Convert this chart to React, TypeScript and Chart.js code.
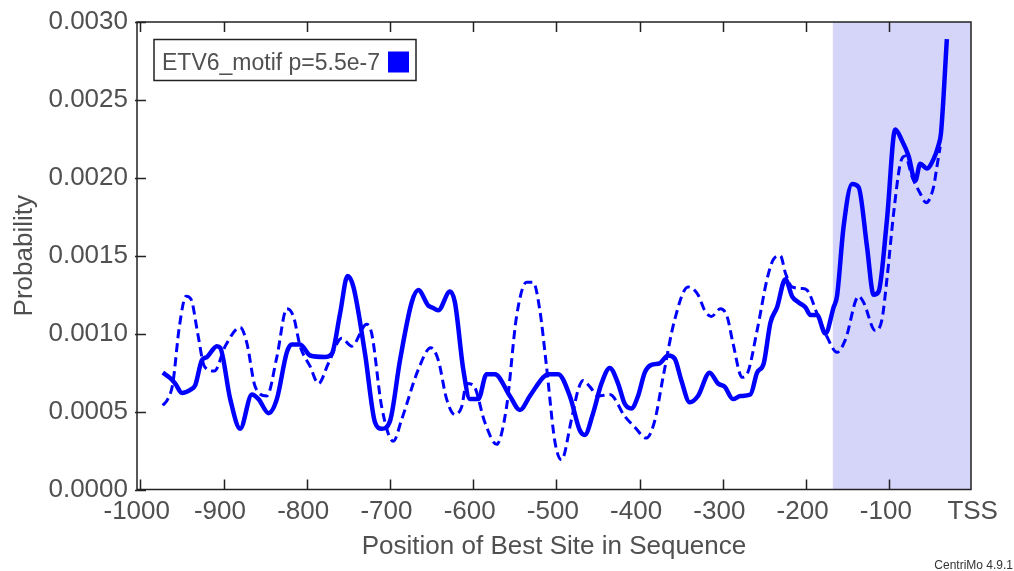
import React, { useEffect, useRef } from "react";
import { Chart, registerables } from "chart.js";

Chart.register(...registerables);

// ---- data ----
const solidX = [
  -973, -963, -958, -950, -940, -934, -926, -920, -908, -904, -892, -880, -866, -858, -846, -836,
  -824, -818, -808, -796, -778, -770, -760, -751, -744, -730, -718, -710, -700, -688, -674, -666,
  -654, -650, -642, -628, -622, -612, -604, -594, -584, -574, -556, -544, -532, -516, -510, -498,
  -484, -472, -466, -456, -446, -436, -426, -418, -410, -402, -394, -386, -376, -366, -358, -350,
  -340, -330, -316, -306, -298, -288, -279, -267, -259, -251, -243, -235, -225, -217, -209, -201,
  -195, -187, -177, -167, -163, -155, -145, -137, -127, -119, -113, -103, -93, -85, -77, -69,
  -63, -55, -47, -41, -38, -31,
];
const solidY = [
  0.00075, 0.00071, 0.00068, 0.00062, 0.00064, 0.00067, 0.00083, 0.00085, 0.00092, 0.00091, 0.00058, 0.00039, 0.00061, 0.00058, 0.00049, 0.00058,
  0.00088, 0.00093, 0.00093, 0.00086, 0.00085, 0.00087, 0.00113, 0.00137, 0.0013, 0.00087, 0.00043, 0.00039, 0.00044, 0.00083, 0.0012, 0.00128,
  0.00118, 0.00117, 0.00115, 0.00127, 0.0012, 0.00077, 0.00058, 0.00058, 0.00074, 0.00074, 0.0006, 0.00051, 0.0006, 0.00072, 0.00074, 0.00074,
  0.0006, 0.00038, 0.00035, 0.00049, 0.00068, 0.00078, 0.00068, 0.00055, 0.00052, 0.0006, 0.00075, 0.0008, 0.00081, 0.00086, 0.00084, 0.0007,
  0.00056, 0.0006, 0.00075, 0.00068, 0.00066, 0.00058, 0.0006, 0.00061, 0.00075, 0.00081, 0.00107, 0.00117, 0.00135, 0.00124, 0.0012, 0.00117,
  0.00112, 0.00112, 0.001, 0.00117, 0.00124, 0.00169, 0.00196, 0.00194, 0.00156, 0.00125, 0.00127, 0.00173, 0.00231, 0.00224, 0.00214, 0.00198,
  0.00209, 0.00206, 0.00212, 0.00221, 0.00229, 0.00289,
];

const dashedX = [
  -973, -967, -961, -953, -945, -939, -931, -923, -911, -898, -880, -872, -862, -848, -836, -824,
  -816, -808, -796, -786, -774, -758, -746, -728, -722, -710, -696, -686, -666, -651, -642, -632,
  -622, -614, -608, -600, -586, -572, -560, -548, -536, -528, -520, -512, -502, -494, -482, -474,
  -468, -460, -450, -436, -418, -406, -392, -382, -372, -358, -342, -330, -322, -314, -303, -295,
  -288, -277, -271, -259, -247, -239, -231, -225, -217, -205, -199, -187, -175, -163, -153, -137,
  -131, -117, -109, -103, -95, -87, -81, -73, -63, -56, -47, -43, -39,
];
const dashedY = [
  0.00054, 0.00058, 0.00068, 0.00105, 0.00124, 0.00122, 0.001, 0.00079, 0.00076, 0.00092, 0.00104, 0.00094, 0.00066, 0.0006, 0.00085, 0.00116,
  0.00111, 0.00092, 0.00079, 0.00068, 0.00081, 0.00097, 0.00092, 0.00106, 0.001, 0.00053, 0.00031, 0.00045, 0.00077, 0.00091, 0.00083, 0.00058,
  0.00048, 0.00053, 0.00068, 0.00067, 0.00043, 0.00029, 0.00053, 0.00111, 0.00133, 0.00133, 0.00115, 0.00079, 0.00031, 0.00019, 0.00045, 0.00064,
  0.0007, 0.00066, 0.0006, 0.00061, 0.00047, 0.0004, 0.00033, 0.00044, 0.00072, 0.00109, 0.0013, 0.00125, 0.00115, 0.00111, 0.00116, 0.00111,
  0.00094, 0.00072, 0.00074, 0.00102, 0.00135, 0.00148, 0.0015, 0.00139, 0.0013, 0.00129, 0.00128, 0.00113, 0.00098, 0.00088, 0.00096, 0.00124,
  0.0012, 0.00102, 0.00109, 0.00135, 0.00177, 0.00209, 0.00214, 0.00201, 0.0019, 0.00184, 0.00194, 0.00207, 0.0022,
];

const xTicks = [-1000, -900, -800, -700, -600, -500, -400, -300, -200, -100, 0];
const yTicks = [0, 0.0005, 0.001, 0.0015, 0.002, 0.0025, 0.003];
const X_MIN = -1004;
const X_MAX = -2;
const Y_MIN = 0;
const Y_MAX = 0.003;
const SHADE_START = -168;

const legendLabel = "ETV6_motif p=5.5e-7";
const xTitle = "Position of Best Site in Sequence";
const yTitle = "Probability";
const credit = "CentriMo 4.9.1";

const BLUE = "#0000ff";
const TEXT = "#505050";
const FRAME = "#222222";
const SHADE = "#d5d5fa";
const FONT = "'Liberation Sans', Arial, sans-serif";

const decorPlugin = {
  id: "decor",
  beforeDatasetsDraw(chart: any) {
    const { ctx, chartArea } = chart;
    const xs = chart.scales.x;
    const x0 = xs.getPixelForValue(SHADE_START);
    ctx.save();
    ctx.fillStyle = SHADE;
    ctx.fillRect(x0, chartArea.top, chartArea.right - x0, chartArea.bottom - chartArea.top);
    ctx.restore();
  },
  afterDatasetsDraw(chart: any) {
    const { ctx, chartArea } = chart;
    const xs = chart.scales.x;
    const ys = chart.scales.y;
    ctx.save();
    ctx.strokeStyle = FRAME;
    ctx.lineWidth = 1.5;
    ctx.strokeRect(chartArea.left, chartArea.top, chartArea.right - chartArea.left, chartArea.bottom - chartArea.top);
    ctx.beginPath();
    xTicks.forEach((v) => {
      if (v < X_MIN || v > X_MAX) return;
      const px = Math.round(xs.getPixelForValue(v)) + 0.5;
      ctx.moveTo(px, chartArea.bottom);
      ctx.lineTo(px, chartArea.bottom - 10);
      ctx.moveTo(px, chartArea.top);
      ctx.lineTo(px, chartArea.top + 10);
    });
    yTicks.forEach((v) => {
      const py = Math.round(ys.getPixelForValue(v)) + 0.5;
      ctx.moveTo(chartArea.left - 2, py);
      ctx.lineTo(chartArea.left + 9, py);
    });
    ctx.stroke();

    // legend box
    const lx = chartArea.left + 17;
    const ly = chartArea.top + 17.5;
    ctx.fillStyle = "#ffffff";
    ctx.fillRect(lx, ly, 262, 41);
    ctx.strokeStyle = FRAME;
    ctx.lineWidth = 1.5;
    ctx.strokeRect(lx, ly, 262, 41);
    ctx.fillStyle = TEXT;
    ctx.font = `23px ${FONT}`;
    ctx.textBaseline = "alphabetic";
    ctx.textAlign = "left";
    ctx.fillText(legendLabel, lx + 8, ly + 30);
    ctx.fillStyle = BLUE;
    ctx.fillRect(lx + 234, ly + 12, 21, 21);

    // credit
    ctx.fillStyle = "#333333";
    ctx.font = `12px ${FONT}`;
    ctx.textAlign = "right";
    ctx.fillText(credit, chart.width - 1, chart.height - 2);
    ctx.restore();
  },
};

export default function App() {
  const ref = useRef<HTMLCanvasElement | null>(null);
  useEffect(() => {
    if (!ref.current) return;
    const chart = new Chart(ref.current, {
      type: "line",
      data: {
        datasets: [
          {
            label: "motif",
            data: solidX.map((x, i) => ({ x, y: solidY[i] })),
            borderColor: BLUE,
            backgroundColor: BLUE,
            borderWidth: 4.5,
            pointRadius: 0,
            cubicInterpolationMode: "monotone",
            fill: false,
            xAxisID: "x",
            yAxisID: "y",
          },
          {
            label: "control",
            data: dashedX.map((x, i) => ({ x, y: dashedY[i] })),
            borderColor: BLUE,
            backgroundColor: BLUE,
            borderWidth: 3,
            borderDash: [9, 5],
            pointRadius: 0,
            cubicInterpolationMode: "monotone",
            fill: false,
            xAxisID: "x",
            yAxisID: "y",
          },
        ],
      },
      options: {
        responsive: false,
        animation: false,
        layout: { padding: { left: 0, right: 43, top: 22, bottom: 0 } },
        plugins: { legend: { display: false }, tooltip: { enabled: false } },
        scales: {
          x: {
            type: "linear",
            position: "bottom",
            min: X_MIN,
            max: X_MAX,
            afterBuildTicks: (s: any) => {
              s.ticks = xTicks.map((v) => ({ value: v }));
            },
            afterFit: (s: any) => {
              s.height = 81.5;
              s.paddingLeft = 0;
              s.paddingRight = 0;
            },
            grid: { display: false, drawTicks: false },
            border: { display: false },
            ticks: {
              autoSkip: false,
              maxRotation: 0,
              padding: 7,
              color: TEXT,
              font: { family: FONT, size: 26 },
              callback: (v: any) => (Number(v) === 0 ? "TSS" : String(v) + " "),
            },
            title: {
              display: true,
              text: xTitle,
              color: TEXT,
              font: { family: FONT, size: 26 },
              padding: { top: 0, bottom: 9 },
            },
          },
          y: {
            type: "linear",
            min: Y_MIN,
            max: Y_MAX,
            afterBuildTicks: (s: any) => {
              s.ticks = yTicks.map((v) => ({ value: v }));
            },
            afterFit: (s: any) => {
              s.width = 137;
              s.paddingTop = 0;
              s.paddingBottom = 0;
            },
            grid: { display: false, drawTicks: false },
            border: { display: false },
            ticks: {
              padding: 9,
              color: TEXT,
              font: { family: FONT, size: 26 },
              callback: (v: any) => Number(v).toFixed(4),
            },
            title: {
              display: true,
              text: yTitle,
              color: TEXT,
              font: { family: FONT, size: 26 },
              padding: { top: 9, bottom: 0 },
            },
          },
        },
      },
      plugins: [decorPlugin],
    });
    return () => chart.destroy();
  }, []);
  return (
    <div style={{ position: "absolute", left: 0, top: 0, width: 1014, height: 571, background: "#fff" }}>
      <canvas ref={ref} width={1014} height={571} style={{ width: 1014, height: 571, display: "block" }} />
    </div>
  );
}
